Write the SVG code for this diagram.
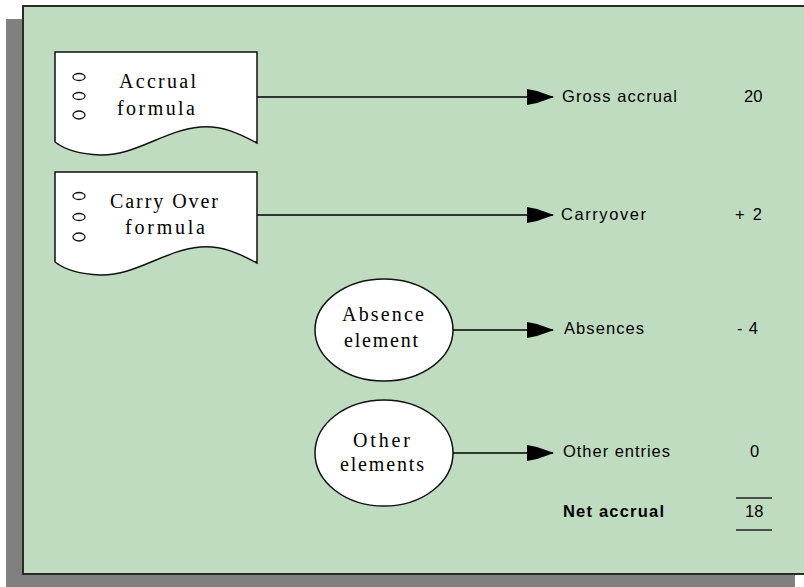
<svg xmlns="http://www.w3.org/2000/svg" width="804" height="587" viewBox="0 0 804 587">
<style>
.doc{fill:#fff;stroke:#111;stroke-width:1.5}
.bul{fill:#fff;stroke:#111;stroke-width:1.3}
.ell{fill:#fff;stroke:#111;stroke-width:1.5}
.ser{font-family:"Liberation Serif","Times New Roman",serif;font-size:20px;fill:#000}
.san{font-family:"Liberation Sans",Arial,sans-serif;font-size:16.5px;fill:#000}
.bold{font-weight:bold}
.con{stroke:#000;stroke-width:1.5;fill:none}
</style>
<defs>
<marker id="ah" viewBox="0 0 27 16" refX="26" refY="8" markerWidth="27" markerHeight="16" markerUnits="userSpaceOnUse" orient="auto">
<path d="M0,0 L10,2 L27,8 L10,14 L0,16 Z" fill="#000"/>
</marker>
</defs>
<rect x="0" y="0" width="804" height="587" fill="#fff"/>
<rect x="6" y="19" width="789" height="580" fill="#808080"/>
<rect x="23" y="6" width="800" height="568" fill="#c0dcc0" stroke="#2a2a2a" stroke-width="2"/>

<g id="doc-accrual">
<path class="doc" d="M55,52 H257 V143 C240,134 222,125 200,127 C165,130 135,156 100,155 C78,154 64,149 55,142 Z"/>
<ellipse class="bul" cx="79" cy="77" rx="6" ry="3.5"/>
<ellipse class="bul" cx="79" cy="96" rx="6" ry="3.5"/>
<ellipse class="bul" cx="79" cy="115" rx="6" ry="4"/>
<text class="ser" x="119" y="88" textLength="77" lengthAdjust="spacing">Accrual</text>
<text class="ser" x="117" y="115" textLength="78" lengthAdjust="spacing">formula</text>
</g>

<g id="doc-carryover">
<path class="doc" d="M55,172 H257 V263 C240,254 222,245 200,247 C165,250 135,276 100,275 C78,274 64,269 55,262 Z"/>
<ellipse class="bul" cx="79" cy="196" rx="6" ry="3.5"/>
<ellipse class="bul" cx="79" cy="217" rx="6" ry="3.5"/>
<ellipse class="bul" cx="79" cy="237" rx="6" ry="4"/>
<text class="ser" x="110" y="208" textLength="108" lengthAdjust="spacing">Carry Over</text>
<text class="ser" x="125" y="234" textLength="80" lengthAdjust="spacing">formula</text>
</g>

<g id="absence-element">
<ellipse class="ell" cx="384" cy="330" rx="69" ry="51"/>
<text class="ser" x="342" y="321" textLength="82" lengthAdjust="spacing">Absence</text>
<text class="ser" x="344" y="347" textLength="74" lengthAdjust="spacing">element</text>
</g>

<g id="other-elements">
<ellipse class="ell" cx="384" cy="453" rx="69" ry="53"/>
<text class="ser" x="353" y="447" textLength="57" lengthAdjust="spacing">Other</text>
<text class="ser" x="340" y="471" textLength="84" lengthAdjust="spacing">elements</text>
</g>

<g id="connectors">
<line class="con" x1="257" y1="97" x2="553" y2="97" marker-end="url(#ah)"/>
<line class="con" x1="257" y1="215" x2="553" y2="215" marker-end="url(#ah)"/>
<line class="con" x1="453" y1="330" x2="553" y2="330" marker-end="url(#ah)"/>
<line class="con" x1="453" y1="453" x2="553" y2="453" marker-end="url(#ah)"/>
</g>

<g id="results">
<text class="san" x="562" y="102" textLength="115" lengthAdjust="spacing">Gross accrual</text>
<text class="san" x="744" y="102">20</text>
<text class="san" x="561" y="220" textLength="85" lengthAdjust="spacing">Carryover</text>
<text class="san" x="735" y="220" textLength="27" lengthAdjust="spacing">+ 2</text>
<text class="san" x="564" y="334" textLength="80" lengthAdjust="spacing">Absences</text>
<text class="san" x="737" y="334" textLength="21" lengthAdjust="spacing">- 4</text>
<text class="san" x="563" y="457" textLength="107" lengthAdjust="spacing">Other entries</text>
<text class="san" x="750" y="457">0</text>
<text class="san bold" x="563" y="517" textLength="101" lengthAdjust="spacing">Net accrual</text>
<text class="san" x="745" y="517">18</text>
<line x1="736" y1="498" x2="772" y2="498" stroke="#222" stroke-width="1.5"/>
<line x1="736" y1="530" x2="772" y2="530" stroke="#222" stroke-width="1.5"/>
</g>
</svg>
